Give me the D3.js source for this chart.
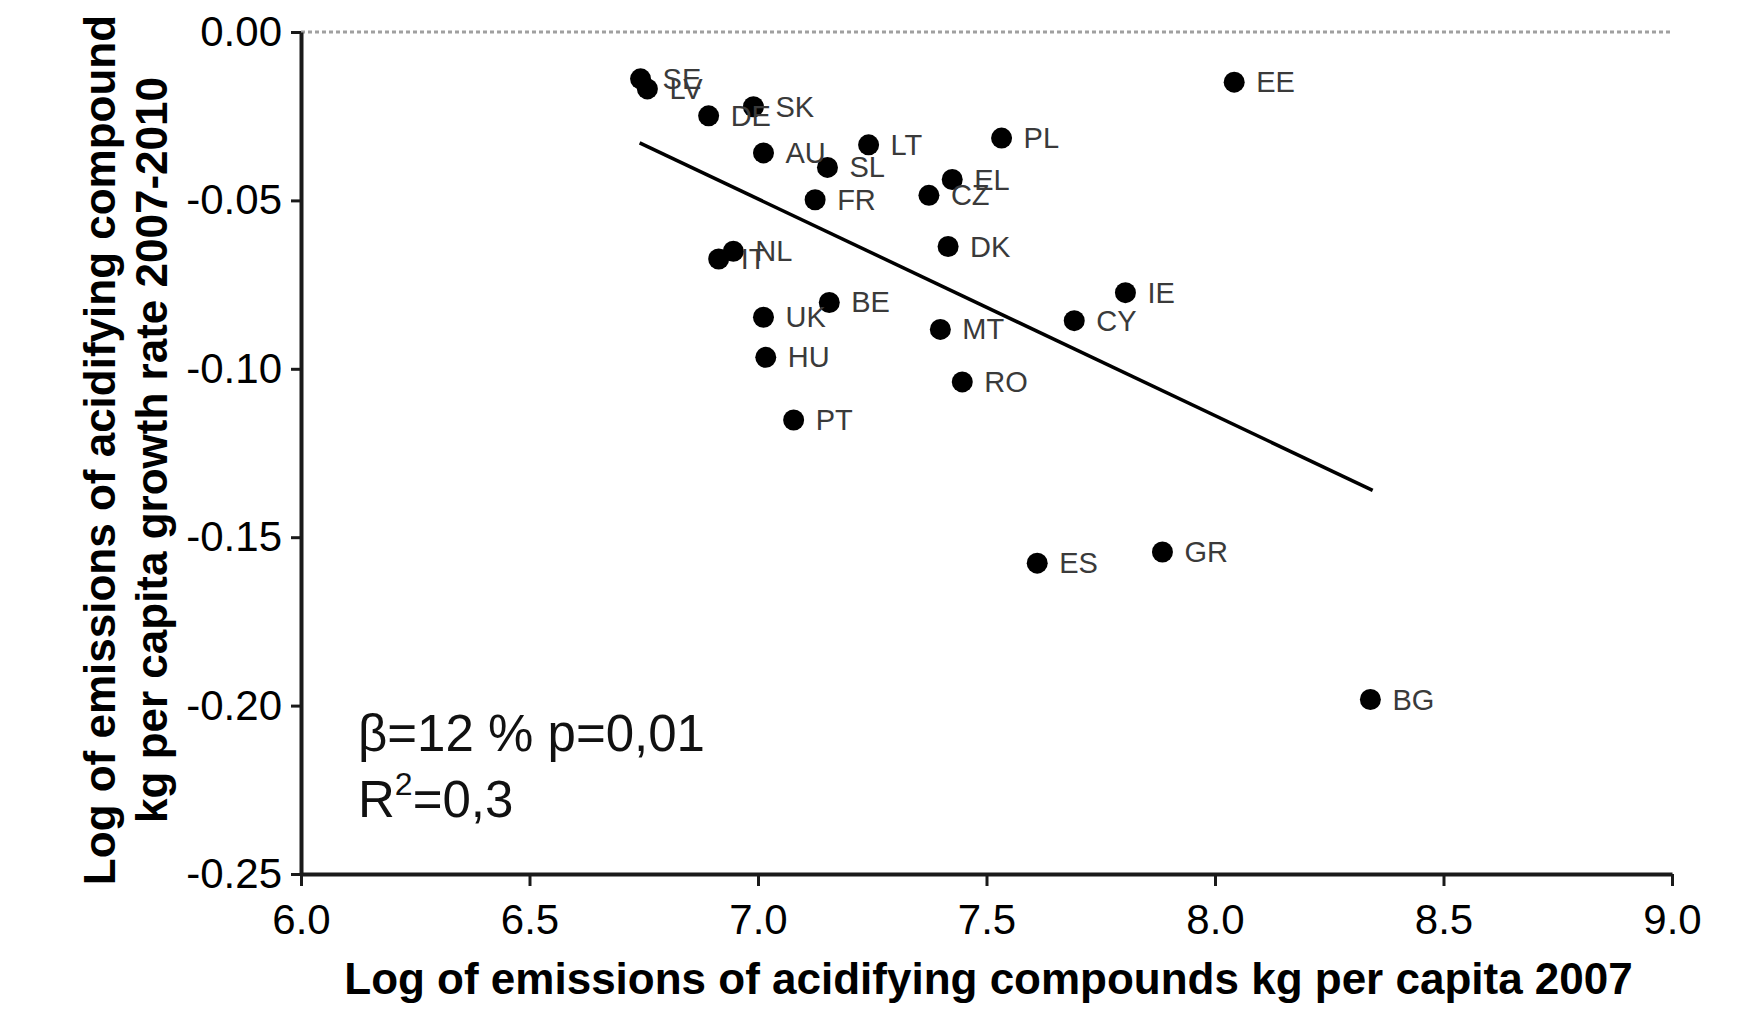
<!DOCTYPE html>
<html>
<head>
<meta charset="utf-8">
<script src="https://cdn.jsdelivr.net/npm/d3@7"></script>
<style>
  body { margin: 0; background: #fff; }
  svg { display: block; font-family: "Liberation Sans", Arial, sans-serif; }
</style>
</head>
<body>
<div id="chart"></div>
<script>
// Data
const countries = ["SE", "LV", "DE", "SK", "AU", "LT", "SL", "PL", "EE", "FR", "EL", "CZ", "DK", "NL", "IT",
                   "IE", "BE", "UK", "CY", "MT", "HU", "RO", "PT", "ES", "GR", "BG"];
const emissions2007 = [6.743, 6.758, 6.892, 6.990, 7.012, 7.242, 7.152, 7.533, 8.042, 7.125, 7.425, 7.374, 7.416, 6.946, 6.914,
                       7.804, 7.156, 7.012, 7.692, 7.399, 7.017, 7.447, 7.078, 7.611, 7.885, 8.340];
const growthRate = [-0.0139, -0.0169, -0.0249, -0.0222, -0.0359, -0.0335, -0.0402, -0.0315, -0.0149, -0.0498, -0.0438, -0.0485, -0.0637, -0.0651, -0.0674,
                    -0.0774, -0.0803, -0.0847, -0.0857, -0.0883, -0.0966, -0.1039, -0.1152, -0.1577, -0.1544, -0.1982];

// regression line end points
const fitX = [6.741, 8.345];
const fitY = [-0.0329, -0.1361];

const xTicks = [6.0, 6.5, 7.0, 7.5, 8.0, 8.5, 9.0];
const yTicks = [0, -0.05, -0.10, -0.15, -0.20, -0.25];

const width = 1751, height = 1012;

let svg = d3.select("#chart")
    .append("svg")
    .attr("width", width)
    .attr("height", height);

let x = d3.scaleLinear().domain([6, 9]).range([301, 1672]);
let y = d3.scaleLinear().domain([0, -0.25]).range([32, 874]);

// dotted zero line
svg.append("line")
    .attr("x1", x(6)).attr("x2", x(9))
    .attr("y1", y(0)).attr("y2", y(0))
    .attr("stroke", "#a0a0a0")
    .attr("stroke-width", 3)
    .attr("stroke-dasharray", "4,3");

// Axes
let xAxis = svg.append("g")
    .attr("transform", `translate(0, ${y(-0.25)})`)
    .call(d3.axisBottom(x).tickValues(xTicks).tickFormat(d => d.toFixed(1))
        .tickSize(12).tickSizeOuter(0).tickPadding(18));

let yAxis = svg.append("g")
    .attr("transform", `translate(${x(6)}, 0)`)
    .call(d3.axisLeft(y).tickValues(yTicks).tickFormat(d => d.toFixed(2))
        .tickSize(10).tickSizeOuter(0).tickPadding(9));

[xAxis, yAxis].forEach(function(a) {
    a.select(".domain").attr("stroke", "#1a1a1a").attr("stroke-width", 4);
    a.selectAll(".tick line").attr("stroke", "#1a1a1a").attr("stroke-width", 3);
    a.selectAll(".tick text")
        .attr("fill", "#000")
        .style("font-size", "42px")
        .style("font-family", "'Liberation Sans', Arial, sans-serif");
});

// Axis titles
svg.append("text")
    .attr("x", (x(6) + x(9)) / 2 + 2)
    .attr("y", 994)
    .attr("text-anchor", "middle")
    .style("font-size", "44px")
    .style("font-weight", "bold")
    .text("Log of emissions of acidifying compounds kg per capita 2007");

let yTitle = svg.append("text")
    .attr("transform", "translate(0, 450) rotate(-90)")
    .attr("text-anchor", "middle")
    .style("font-size", "44px")
    .style("font-weight", "bold");
yTitle.append("tspan").attr("x", 0).attr("y", 115)
    .text("Log of emissions of acidifying compound");
yTitle.append("tspan").attr("x", 0).attr("y", 167)
    .text("kg per capita growth rate 2007-2010");

// Regression line
svg.append("line")
    .attr("x1", x(fitX[0])).attr("y1", y(fitY[0]))
    .attr("x2", x(fitX[1])).attr("y2", y(fitY[1]))
    .attr("stroke", "#000")
    .attr("stroke-width", 3.5);

// Points
let data = countries.map((c, i) => ({name: c, x: emissions2007[i], y: growthRate[i]}));

svg.append("g").selectAll("circle")
    .data(data)
    .enter()
    .append("circle")
    .attr("cx", d => x(d.x))
    .attr("cy", d => y(d.y))
    .attr("r", 10.5)
    .attr("fill", "#000");

svg.append("g").selectAll("text")
    .data(data)
    .enter()
    .append("text")
    .attr("x", d => x(d.x) + 22)
    .attr("y", d => y(d.y) + 10)
    .attr("fill", "#3a3a3a")
    .style("font-size", "29px")
    .text(d => d.name);

// Statistics annotation
let stats = svg.append("text")
    .attr("x", 358)
    .attr("y", 751)
    .style("font-size", "51px")
    .attr("fill", "#111");
stats.append("tspan").text("β=12 % p=0,01");

let r2 = svg.append("text")
    .attr("x", 358)
    .attr("y", 817)
    .style("font-size", "51px")
    .attr("fill", "#111");
r2.append("tspan").text("R");
r2.append("tspan").attr("dy", -22).style("font-size", "32px").text("2");
r2.append("tspan").attr("dy", 22).text("=0,3");
</script>
</body>
</html>
